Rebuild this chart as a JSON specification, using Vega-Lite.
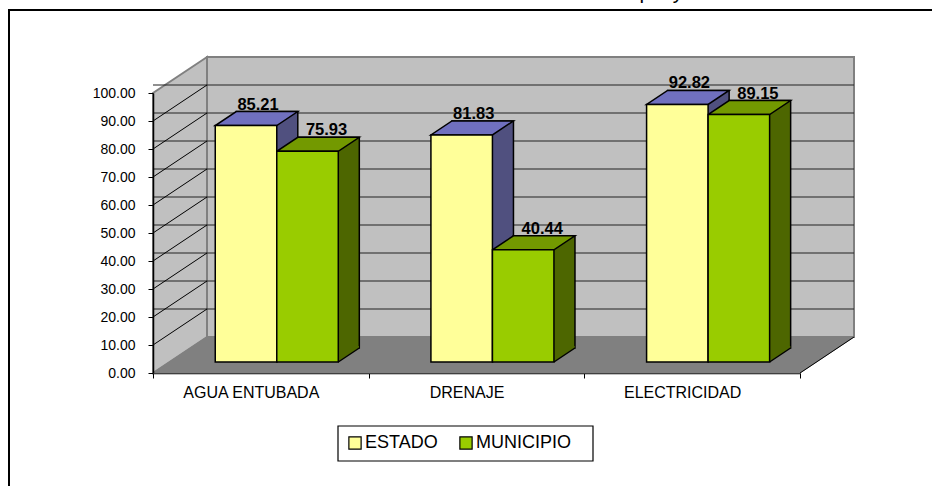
{
"$schema":"https://vega.github.io/schema/vega-lite/v6.json",
"width":647,"height":280,
"padding":{"left":153,"top":93,"right":132,"bottom":113},
"autosize":{"type":"none"},
"background":"white",
"view":{"stroke":null},
"config":{"axisX":{"tickBand":"extent","labelAngle":0,"labelFont":"Liberation Sans","labelFontSize":16,"labelColor":"#000000","tickColor":"#000000","domainColor":"#000000","domainWidth":1.5,"tickSize":5,"labelPadding":6,"labelOffset":-10,"grid":false,"zindex":1,"title":null}},
"datasets":{
"bars":[
{"servicio":"AGUA ENTUBADA","serie":"ESTADO","valor":85.21},
{"servicio":"AGUA ENTUBADA","serie":"MUNICIPIO","valor":75.93},
{"servicio":"DRENAJE","serie":"ESTADO","valor":81.83},
{"servicio":"DRENAJE","serie":"MUNICIPIO","valor":40.44},
{"servicio":"ELECTRICIDAD","serie":"ESTADO","valor":92.82},
{"servicio":"ELECTRICIDAD","serie":"MUNICIPIO","valor":89.15}],
"ticks":[{"t":10},{"t":20},{"t":30},{"t":40},{"t":50},{"t":60},{"t":70},{"t":80},{"t":90}],
"uno":[{"a":1}]
},
"resolve":{"scale":{"y":"independent","color":"independent","xOffset":"independent"}},
"layer":[
{"data":{"name":"uno"},
 "mark":{"type":"point","filled":false,"opacity":1,"stroke":"#000000","strokeWidth":2,"shape":"M-0.144,1 L-0.144,-0.083 L1,-0.083"},
 "encoding":{"size":{"value":4000000},
  "x":{"datum":"AGUA ENTUBADA","type":"nominal","bandPosition":0,"title":null,"scale":{"domain":["AGUA ENTUBADA","DRENAJE","ELECTRICIDAD"],"paddingInner":0,"paddingOuter":0}},
  "y":{"datum":100,"type":"quantitative","title":null,"scale":{"domain":[0,100],"nice":false},
   "axis":{"values":[0,10,20,30,40,50,60,70,80,90,100],"format":".2f","labelFont":"Liberation Sans","labelFontSize":14,"labelColor":"#000000","tickColor":"#000000","domainColor":"#000000","domainWidth":1.5,"tickSize":5,"labelPadding":13,"grid":false,"zindex":1,"title":null}}}},
{"data":{"name":"uno"},
 "mark":{"type":"point","filled":true,"opacity":1,"fill":"#c0c0c0","stroke":"#808080","strokeWidth":2,"shape":"M0,0 L0.054,-0.036 L0.054,-0.316 L0,-0.28 Z"},
 "encoding":{"size":{"value":4000000},
  "x":{"datum":"AGUA ENTUBADA","type":"nominal","bandPosition":0},
  "y":{"datum":0,"type":"quantitative","scale":{"domain":[0,100],"nice":false},"axis":null}}},
{"data":{"name":"uno"},
 "mark":{"type":"point","filled":true,"opacity":1,"fill":"#c0c0c0","stroke":"#808080","strokeWidth":2,"shape":"M0.054,-0.036 L0.701,-0.036 L0.701,-0.316 L0.054,-0.316 Z"},
 "encoding":{"size":{"value":4000000},
  "x":{"datum":"AGUA ENTUBADA","type":"nominal","bandPosition":0},
  "y":{"datum":0,"type":"quantitative","scale":{"domain":[0,100],"nice":false},"axis":null}}},
{"data":{"name":"ticks"},
 "mark":{"type":"rule","stroke":"#222222","strokeWidth":1.2,"xOffset":54,"x2Offset":54,"yOffset":-36},
 "encoding":{"y":{"field":"t","type":"quantitative","scale":{"domain":[0,100],"nice":false},"axis":null}}},
{"data":{"name":"ticks"},
 "mark":{"type":"point","filled":false,"opacity":1,"stroke":"#000000","strokeWidth":1,"shape":"M0,0 L0.054,-0.036"},
 "encoding":{"size":{"value":4000000},
  "x":{"datum":"AGUA ENTUBADA","type":"nominal","bandPosition":0},
  "y":{"field":"t","type":"quantitative","scale":{"domain":[0,100],"nice":false},"axis":null}}},
{"data":{"name":"uno"},
 "mark":{"type":"point","filled":true,"opacity":1,"fill":"#808080","stroke":"#808080","strokeWidth":1,"shape":"M0,0 L0.054,-0.036 L0.701,-0.036 L0.647,0 Z"},
 "encoding":{"size":{"value":4000000},
  "x":{"datum":"AGUA ENTUBADA","type":"nominal","bandPosition":0},
  "y":{"datum":0,"type":"quantitative","scale":{"domain":[0,100],"nice":false},"axis":null}}},
{"data":{"name":"uno"},
 "mark":{"type":"point","filled":false,"opacity":1,"stroke":"#000000","strokeWidth":1,"shape":"M0.647,0 L0.701,-0.036"},
 "encoding":{"size":{"value":4000000},
  "x":{"datum":"AGUA ENTUBADA","type":"nominal","bandPosition":0},
  "y":{"datum":0,"type":"quantitative","scale":{"domain":[0,100],"nice":false},"axis":null}}},
{"data":{"name":"uno"},
 "mark":{"type":"point","filled":true,"opacity":1,"fill":"#ffffff","stroke":"#000000","strokeWidth":1.2,"shape":"M0.185,0.053 L0.44,0.053 L0.44,0.088 L0.185,0.088 Z"},
 "encoding":{"size":{"value":4000000},
  "x":{"datum":"AGUA ENTUBADA","type":"nominal","bandPosition":0},
  "y":{"datum":0,"type":"quantitative","scale":{"domain":[0,100],"nice":false},"axis":null}}},
{"data":{"name":"uno"},
 "mark":{"type":"text","font":"Liberation Sans","fontSize":20.6,"color":"#000000","baseline":"alphabetic","align":"center","dx":26.5,"yOffset":-94,"text":"Cobertura en Servicios en Vivienda en el Municipio y Estado 2000"},
 "encoding":{
  "x":{"datum":"DRENAJE","type":"nominal"},
  "y":{"datum":100,"type":"quantitative","scale":{"domain":[0,100],"nice":false},"axis":null}}},
{"data":{"name":"bars"},
 "mark":{"type":"bar","stroke":"#000000","strokeWidth":1.5,"yOffset":-25,"y2Offset":-25},
 "encoding":{
  "x":{"field":"servicio","type":"nominal"},
  "xOffset":{"field":"serie","type":"nominal","scale":{"type":"band","domain":["ESTADO","MUNICIPIO"],"paddingInner":0,"paddingOuter":0.753,"align":0.899}},
  "y":{"field":"valor","type":"quantitative","stack":null,"scale":{"domain":[0,100.9],"nice":false},"axis":null},
  "y2":{"datum":0},
  "color":{"field":"serie","type":"nominal","legend":null,"scale":{"domain":["ESTADO","MUNICIPIO"],"range":["#50507f","#4d6600"]}}}},
{"data":{"name":"bars"},
 "mark":{"type":"point","filled":true,"opacity":1,"strokeWidth":0,"yOffset":-11,"shape":"M0.0615,0 L0.103,-0.0275 L0.103,-0.032 L0.0615,-0.032 Z"},
 "encoding":{"size":{"value":1000000},
  "x":{"field":"servicio","type":"nominal"},
  "xOffset":{"field":"serie","type":"nominal","scale":{"type":"band","domain":["ESTADO","MUNICIPIO"],"paddingInner":0,"paddingOuter":0.753,"align":0.672}},
  "y":{"datum":0,"type":"quantitative","scale":{"domain":[0,100.9],"nice":false},"axis":null},
  "color":{"field":"serie","type":"nominal","legend":null,"scale":{"domain":["ESTADO","MUNICIPIO"],"range":["#50507f","#4d6600"]}}}},
{"data":{"name":"bars"},
 "mark":{"type":"point","filled":false,"opacity":1,"stroke":"#000000","strokeWidth":1.5,"yOffset":-11,"shape":"M0.0615,0 L0.1035,-0.028"},
 "encoding":{"size":{"value":1000000},
  "x":{"field":"servicio","type":"nominal"},
  "xOffset":{"field":"serie","type":"nominal","scale":{"type":"band","domain":["ESTADO","MUNICIPIO"],"paddingInner":0,"paddingOuter":0.753,"align":0.672}},
  "y":{"datum":0,"type":"quantitative","scale":{"domain":[0,100.9],"nice":false},"axis":null}}},
{"data":{"name":"bars"},
 "mark":{"type":"point","filled":true,"opacity":1,"stroke":"#000000","strokeWidth":1.5,"yOffset":-11,"shape":"M-0.0615,0 L0.0615,0 L0.1035,-0.028 L-0.0195,-0.028 Z"},
 "encoding":{"size":{"value":1000000},
  "x":{"field":"servicio","type":"nominal"},
  "xOffset":{"field":"serie","type":"nominal","scale":{"type":"band","domain":["ESTADO","MUNICIPIO"],"paddingInner":0,"paddingOuter":0.753,"align":0.672}},
  "y":{"field":"valor","type":"quantitative","scale":{"domain":[0,100.9],"nice":false},"axis":null},
  "fill":{"field":"serie","type":"nominal","legend":null,"scale":{"domain":["ESTADO","MUNICIPIO"],"range":["#7070bf","#739900"]}}}},
{"data":{"name":"bars"},
 "mark":{"type":"bar","stroke":"#000000","strokeWidth":1.5,"yOffset":-11,"y2Offset":-11},
 "encoding":{
  "x":{"field":"servicio","type":"nominal"},
  "xOffset":{"field":"serie","type":"nominal","scale":{"type":"band","domain":["ESTADO","MUNICIPIO"],"paddingInner":0,"paddingOuter":0.753,"align":0.672}},
  "y":{"field":"valor","type":"quantitative","stack":null,"scale":{"domain":[0,100.9],"nice":false},"axis":null},
  "y2":{"datum":0},
  "color":{"field":"serie","type":"nominal","scale":{"domain":["ESTADO","MUNICIPIO"],"range":["#ffff99","#99cc00"]},
   "legend":{"title":null,"orient":"none","legendX":185,"legendY":333,"direction":"horizontal","padding":8,"symbolType":"square","symbolSize":150,"symbolStrokeColor":"#000000","symbolStrokeWidth":1.2,"symbolOpacity":1,"labelFont":"Liberation Sans","labelFontSize":18,"labelColor":"#000000","columnPadding":19,"labelOffset":1}}}},
{"data":{"name":"bars"},
 "mark":{"type":"text","font":"Liberation Sans","fontSize":16.5,"fontWeight":"bold","color":"#000000","baseline":"alphabetic","align":"center","yOffset":-27},
 "encoding":{
  "x":{"field":"servicio","type":"nominal"},
  "xOffset":{"field":"serie","type":"nominal","scale":{"type":"band","domain":["ESTADO","MUNICIPIO"],"paddingInner":0,"paddingOuter":0.574,"align":0.9}},
  "y":{"field":"valor","type":"quantitative","scale":{"domain":[0,100.9],"nice":false},"axis":null},
  "text":{"field":"valor","type":"quantitative","format":".2f"}}}
]
}
